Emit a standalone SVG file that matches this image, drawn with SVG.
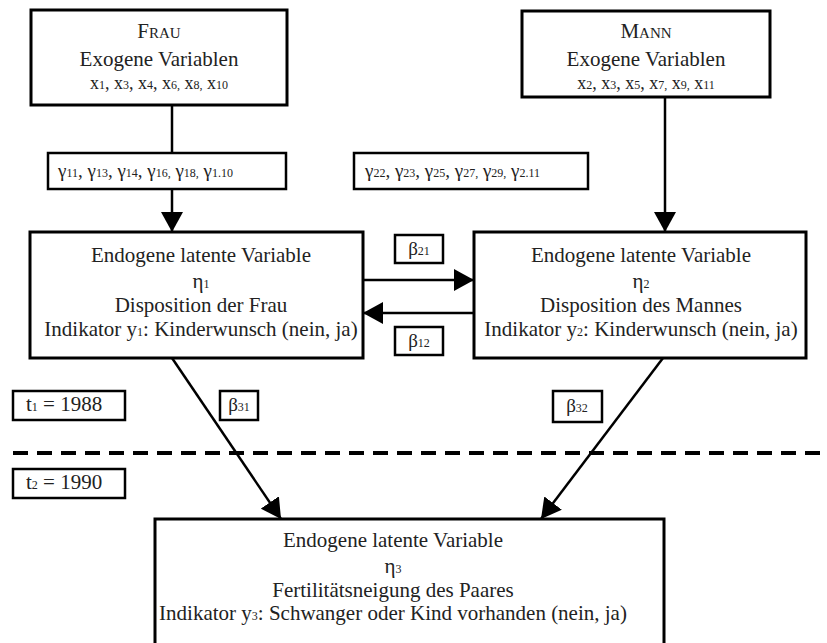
<svg xmlns="http://www.w3.org/2000/svg" width="827" height="643" viewBox="0 0 827 643">
<defs>
<style>
.box{fill:#fff;stroke:#000;stroke-width:3}
.lbl{fill:#fff;stroke:#000;stroke-width:2.5}
.t{font-family:"Liberation Serif","Times New Roman",serif;font-size:21px;fill:#222;text-anchor:middle}
.tl{font-family:"Liberation Serif","Times New Roman",serif;font-size:21px;fill:#222}
.s{font-size:12px}
.sc{font-variant:small-caps}
.ln{stroke:#000;stroke-width:2.5;fill:none}
</style>
<marker id="a" viewBox="0 0 20 22" refX="20" refY="11" markerWidth="20" markerHeight="22" markerUnits="userSpaceOnUse" orient="auto">
<path d="M0,0 L20,11 L0,22 Z" fill="#000"/>
</marker>
</defs>

<g id="connectors">
<line class="ln" x1="172" y1="105" x2="172" y2="153"/>
<line class="ln" x1="172" y1="189" x2="172" y2="232" marker-end="url(#a)"/>
<line class="ln" x1="665" y1="97" x2="665" y2="232" marker-end="url(#a)"/>
<line class="ln" x1="363" y1="280" x2="474" y2="280" marker-end="url(#a)"/>
<line class="ln" x1="474" y1="313" x2="363" y2="313" marker-end="url(#a)"/>
<line class="ln" x1="172" y1="358" x2="281" y2="519" marker-end="url(#a)"/>
<line class="ln" x1="663" y1="358" x2="541" y2="519" marker-end="url(#a)"/>
<line x1="13" y1="453" x2="827" y2="453" stroke="#000" stroke-width="4" stroke-dasharray="15 9"/>
</g>

<g id="frau">
<rect class="box" x="31" y="10" width="256" height="95"/>
<text class="t sc" x="159" y="38">Frau</text>
<text class="t" x="159" y="66">Exogene Variablen</text>
<text class="t" x="159" y="89" style="font-size:18px">x<tspan class="s">1</tspan>, x<tspan class="s">3</tspan>, x<tspan class="s">4</tspan>, x<tspan class="s">6,</tspan> x<tspan class="s">8,</tspan> x<tspan class="s">10</tspan></text>
</g>

<g id="mann">
<rect class="box" x="522" y="11" width="248" height="86"/>
<text class="t sc" x="646" y="38">Mann</text>
<text class="t" x="646" y="66">Exogene Variablen</text>
<text class="t" x="646" y="89" style="font-size:18px">x<tspan class="s">2</tspan>, x<tspan class="s">3</tspan>, x<tspan class="s">5</tspan>, x<tspan class="s">7,</tspan> x<tspan class="s">9,</tspan> x<tspan class="s">11</tspan></text>
</g>

<g id="gamma1">
<rect class="lbl" x="48" y="153" width="238" height="36"/>
<text class="tl" x="58" y="177" style="font-size:19px">γ<tspan class="s">11</tspan>, γ<tspan class="s">13</tspan>, γ<tspan class="s">14</tspan>, γ<tspan class="s">16,</tspan> γ<tspan class="s">18,</tspan> γ<tspan class="s">1.10</tspan></text>
</g>

<g id="gamma2">
<rect class="lbl" x="354" y="153" width="234" height="36"/>
<text class="tl" x="365" y="177" style="font-size:19px">γ<tspan class="s">22</tspan>, γ<tspan class="s">23</tspan>, γ<tspan class="s">25</tspan>, γ<tspan class="s">27,</tspan> γ<tspan class="s">29,</tspan> γ<tspan class="s">2.11</tspan></text>
</g>

<g id="eta1">
<rect class="box" x="30" y="232" width="333" height="126"/>
<text class="t" x="201" y="262">Endogene latente Variable</text>
<text class="t" x="201" y="288">η<tspan class="s">1</tspan></text>
<text class="t" x="201" y="312">Disposition der Frau</text>
<text class="t" x="201" y="336">Indikator y<tspan class="s">1</tspan>: Kinderwunsch (nein, ja)</text>
</g>

<g id="eta2">
<rect class="box" x="474" y="232" width="332" height="126"/>
<text class="t" x="641" y="262">Endogene latente Variable</text>
<text class="t" x="641" y="288">η<tspan class="s">2</tspan></text>
<text class="t" x="641" y="312">Disposition des Mannes</text>
<text class="t" x="641" y="336">Indikator y<tspan class="s">2</tspan>: Kinderwunsch (nein, ja)</text>
</g>

<g id="beta21">
<rect class="lbl" x="395" y="235" width="48" height="28"/>
<text class="t" x="419" y="255" style="font-size:19px">β<tspan class="s">21</tspan></text>
</g>
<g id="beta12">
<rect class="lbl" x="395" y="327" width="48" height="28"/>
<text class="t" x="419" y="347" style="font-size:19px">β<tspan class="s">12</tspan></text>
</g>

<g id="t1">
<rect class="lbl" x="13" y="391" width="112" height="29"/>
<text class="tl" x="26" y="411">t<tspan class="s">1</tspan> = 1988</text>
</g>
<g id="beta31">
<rect class="lbl" x="220" y="391" width="38" height="29"/>
<text class="t" x="239" y="411" style="font-size:19px">β<tspan class="s">31</tspan></text>
</g>
<g id="beta32">
<rect class="lbl" x="553" y="391" width="49" height="31"/>
<text class="t" x="577" y="412" style="font-size:19px">β<tspan class="s">32</tspan></text>
</g>
<g id="t2">
<rect class="lbl" x="13" y="469" width="112" height="29"/>
<text class="tl" x="26" y="489">t<tspan class="s">2</tspan> = 1990</text>
</g>

<g id="eta3">
<rect class="box" x="155" y="519" width="509" height="140"/>
<text class="t" x="393" y="547">Endogene latente Variable</text>
<text class="t" x="393" y="573">η<tspan class="s">3</tspan></text>
<text class="t" x="393" y="597">Fertilitätsneigung des Paares</text>
<text class="t" x="393" y="620">Indikator y<tspan class="s">3</tspan>: Schwanger oder Kind vorhanden (nein, ja)</text>
</g>
</svg>
